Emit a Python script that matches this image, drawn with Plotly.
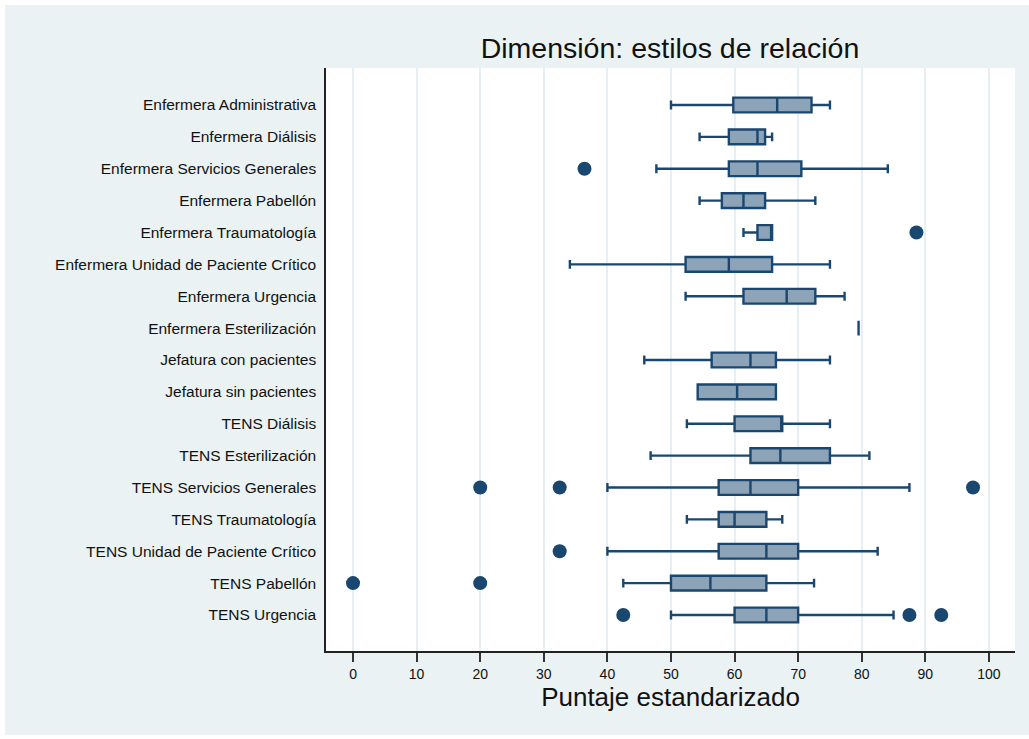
import plotly.graph_objects as go

categories = [
    "Enfermera Administrativa",
    "Enfermera Diálisis",
    "Enfermera Servicios Generales",
    "Enfermera Pabellón",
    "Enfermera Traumatología",
    "Enfermera Unidad de Paciente Crítico",
    "Enfermera Urgencia",
    "Enfermera Esterilización",
    "Jefatura con pacientes",
    "Jefatura sin pacientes",
    "TENS Diálisis",
    "TENS Esterilización",
    "TENS Servicios Generales",
    "TENS Traumatología",
    "TENS Unidad de Paciente Crítico",
    "TENS Pabellón",
    "TENS Urgencia",
]
lower_whisker = [50.0, 54.5, 47.7, 54.5, 61.4, 34.1, 52.3, 79.5, 45.8, 54.2, 52.5, 46.8, 40.0, 52.5, 40.0, 42.5, 50.0]
q1_vals       = [59.8, 59.1, 59.1, 58.0, 63.6, 52.3, 61.4, 79.5, 56.4, 54.2, 60.0, 62.5, 57.5, 57.5, 57.5, 50.0, 60.0]
median_vals   = [66.7, 63.6, 63.6, 61.4, 65.9, 59.1, 68.2, 79.5, 62.5, 60.4, 67.5, 67.2, 62.5, 60.0, 65.0, 56.2, 65.0]
q3_vals       = [72.1, 64.8, 70.5, 64.8, 65.9, 65.9, 72.7, 79.5, 66.5, 66.5, 67.5, 75.0, 70.0, 65.0, 70.0, 65.0, 70.0]
upper_whisker = [75.0, 65.9, 84.1, 72.7, 65.9, 75.0, 77.3, 79.5, 75.0, 66.5, 75.0, 81.2, 87.5, 67.5, 82.5, 72.5, 85.0]

outlier_cat = [
    "Enfermera Servicios Generales",
    "Enfermera Traumatología",
    "TENS Servicios Generales", "TENS Servicios Generales", "TENS Servicios Generales",
    "TENS Unidad de Paciente Crítico",
    "TENS Pabellón", "TENS Pabellón",
    "TENS Urgencia", "TENS Urgencia", "TENS Urgencia",
]
outlier_val = [36.4, 88.6, 20.0, 32.5, 97.5, 32.5, 0.0, 20.0, 42.5, 87.5, 92.5]

x_ticks = [0, 10, 20, 30, 40, 50, 60, 70, 80, 90, 100]

NAVY = "#1A476F"
FILL = "#8DA3B8"
BG = "#EAF2F3"
FONT = "Liberation Sans, Arial, sans-serif"

fig = go.Figure()
fig.add_trace(go.Box(
    orientation="h",
    y=categories,
    q1=q1_vals,
    median=median_vals,
    q3=q3_vals,
    lowerfence=lower_whisker,
    upperfence=upper_whisker,
    fillcolor=FILL,
    line=dict(color=NAVY, width=2.4),
    whiskerwidth=0.6,
    boxpoints=False,
    showlegend=False,
    hoverinfo="skip",
))
fig.add_trace(go.Scatter(
    x=outlier_val,
    y=outlier_cat,
    mode="markers",
    marker=dict(color=NAVY, size=14, symbol="circle"),
    showlegend=False,
    hoverinfo="skip",
))

L, R, T, B = 326, 14, 68, 88
W, H = 1029, 739
pw, ph = W - L - R, H - T - B

def px_x(p):
    return (p - L) / pw

def px_y(p):
    return (H - B - p) / ph

fig.update_layout(
    width=W, height=H,
    margin=dict(l=L, r=R, t=T, b=B),
    paper_bgcolor="white",
    plot_bgcolor="white",
    boxgap=0.34,
    font=dict(family=FONT, color="#111111"),
    title=dict(
        text="Dimensión: estilos de relación",
        x=px_x(670), xref="paper", xanchor="center",
        y=1 - 48 / H, yref="container", yanchor="middle",
        font=dict(size=28.5, family=FONT, color="#111111"),
    ),
    shapes=[
        dict(type="rect", xref="paper", yref="paper", layer="below",
             x0=px_x(5), x1=px_x(1029), y0=px_y(735), y1=px_y(5),
             fillcolor=BG, line=dict(width=0)),
        dict(type="rect", xref="paper", yref="paper", layer="below",
             x0=0, x1=1, y0=0, y1=1,
             fillcolor="white", line=dict(width=0)),
    ],
    xaxis=dict(
        range=[-4.25, 104.1],
        tickmode="array", tickvals=x_ticks, ticktext=[str(t) for t in x_ticks],
        ticks="outside", ticklen=9, tickwidth=1.5, tickcolor="#333333",
        tickfont=dict(size=14, family=FONT, color="#111111"),
        showgrid=True, gridcolor="#E6EFF1", gridwidth=2,
        zeroline=False,
        showline=True, linecolor="#222222", linewidth=1.5,
        title=dict(text="Puntaje estandarizado", standoff=2,
                   font=dict(size=26, family=FONT, color="#111111")),
    ),
    yaxis=dict(
        type="category",
        categoryorder="array", categoryarray=categories,
        range=[len(categories) - 1 + 1.13, -1.16],
        ticks="", showgrid=False, zeroline=False,
        showline=True, linecolor="#222222", linewidth=1.5,
        tickfont=dict(size=15.5, family=FONT, color="#111111"),
        ticklabelstandoff=5,
    ),
)

fig.write_html(
    "out.html",
    config={"displayModeBar": False},
    post_script="document.body.style.margin='0';document.body.style.overflow='hidden';",
)
